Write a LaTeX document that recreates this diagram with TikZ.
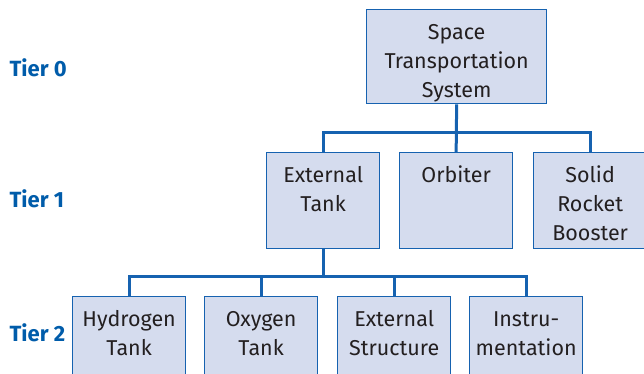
\documentclass[tikz,border=0pt]{standalone}
\usepackage{fontspec}
\setmainfont{Fira Sans}
\usetikzlibrary{positioning,calc}

\definecolor{wbsfill}{RGB}{213,220,238}
\definecolor{wbsline}{RGB}{22,98,176}
\definecolor{tierblue}{RGB}{0,92,170}
\definecolor{wbsink}{RGB}{35,31,32}

% box text: fixed size, lines hang from the top
\newcommand{\boxlines}[3]{\parbox[c][#2][t]{#1}{\centering\rule{0pt}{30pt}#3}}

\tikzset{
  wbsbox/.style={draw=wbsline, line width=1.3pt, fill=wbsfill, inner sep=0pt,
                 anchor=north west, text=wbsink,
                 font=\fontsize{21.5}{29}\selectfont},
  wbsconn/.style={draw=wbsline, line width=3pt},
  tierlabel/.style={anchor=base west, text=tierblue,
                    font=\fontsize{22}{25}\selectfont\bfseries}
}

\begin{document}
\begin{tikzpicture}[x=1pt, y=-1pt]
  % Define dimensions
  \def\bw{113pt}
  \def\bh{96pt}
  \useasboundingbox (0,0) rectangle (644,373);
  \clip (0,0) rectangle (644,373);

  % Tier labels
  \node[tierlabel] (t0) at (6,76) {Tier 0};
  \node[tierlabel] (t1) at (6,207) {Tier 1};
  \node[tierlabel] (t2) at (6,341) {Tier 2};

  % Tier 0
  \node[wbsbox] (sts) at (366,9) {\boxlines{180pt}{94pt}{Space\\Transportation\\System}};

  % Tier 1
  \node[wbsbox] (et)  at (266,152) {\boxlines{\bw}{\bh}{External\\Tank}};
  \node[wbsbox] (orb) at (399,152) {\boxlines{\bw}{\bh}{Orbiter}};
  \node[wbsbox] (srb) at (533,152) {\boxlines{\bw}{\bh}{Solid\\Rocket\\Booster}};

  % Tier 2
  \node[wbsbox] (ht)  at (72,296)  {\boxlines{\bw}{\bh}{Hydrogen\\Tank}};
  \node[wbsbox] (ox)  at (204,296) {\boxlines{\bw}{\bh}{Oxygen\\Tank}};
  \node[wbsbox] (es)  at (337,296) {\boxlines{\bw}{\bh}{External\\Structure}};
  \node[wbsbox] (ins) at (469,296) {\boxlines{\bw}{\bh}{Instru-\\mentation}};

  % Connectors
  \coordinate (bar1) at (456,132);
  \coordinate (bar2) at (322,276);
  \draw[wbsconn] (sts.south) -- (orb.north);
  \draw[wbsconn] (et.north) |- (bar1) -| (srb.north);
  \draw[wbsconn] (et.south) -- (et.south |- bar2);
  \draw[wbsconn] (ht.north) |- (bar2) -| (ins.north);
  \foreach \child in {ox, es}
    \draw[wbsconn] (\child.north) -- (\child.north |- bar2);
\end{tikzpicture}
\end{document}
